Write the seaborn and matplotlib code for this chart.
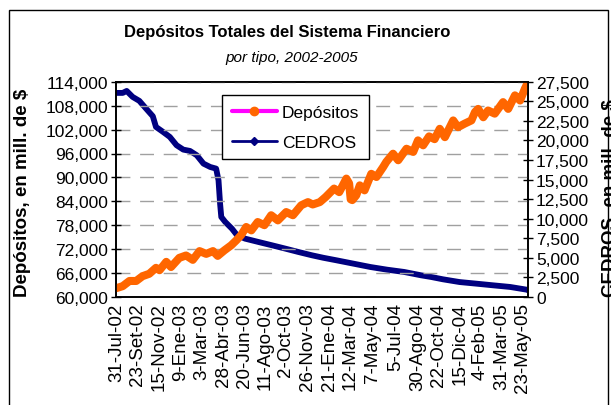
import matplotlib
matplotlib.use("Agg")
import matplotlib.pyplot as plt
import matplotlib.patches as mpatches
from matplotlib.lines import Line2D
from matplotlib.ticker import FuncFormatter
import pandas as pd
import seaborn as sns

# ---------------- data ----------------
dep_dates = ["2002-07-31","2002-08-16","2002-09-02","2002-09-19","2002-10-05","2002-10-22","2002-11-08","2002-11-17",
             "2002-12-04","2002-12-16","2003-01-06","2003-01-23","2003-02-09","2003-02-26","2003-03-15","2003-04-01",
             "2003-04-13","2003-04-30","2003-05-17","2003-05-30","2003-06-11","2003-06-24","2003-07-07","2003-07-23",
             "2003-08-09","2003-08-26","2003-09-12","2003-10-03","2003-10-20","2003-11-10","2003-11-27","2003-12-09",
             "2003-12-27","2004-01-11","2004-02-01","2004-02-14","2004-03-03","2004-03-10","2004-03-14","2004-03-18",
             "2004-03-28","2004-04-06","2004-04-18","2004-05-05","2004-05-18","2004-06-04","2004-06-12","2004-06-29",
             "2004-07-12","2004-08-02","2004-08-19","2004-08-31","2004-09-13","2004-09-28","2004-10-12","2004-10-25",
             "2004-11-07","2004-11-28","2004-12-10","2004-12-27","2005-01-13","2005-01-22","2005-01-30","2005-02-12",
             "2005-02-24","2005-03-13","2005-04-03","2005-04-16","2005-05-03","2005-05-16","2005-05-28","2005-06-05"]
depositos = [62200, 62700, 64000, 64000, 65200, 65800, 67300, 66700,
             68800, 67500, 69800, 70400, 69300, 71500, 70800, 71500,
             70300, 71700, 72950, 74200, 75500, 77550, 76700, 78800,
             78000, 80500, 79200, 81300, 80500, 83000, 83800, 83200,
             83800, 85100, 87200, 86300, 89700, 88500, 84500, 84300,
             85500, 88000, 86750, 90900, 90100, 92600, 93900, 95950,
             94300, 97200, 96400, 99300, 98050, 100300, 99600, 102200,
             100100, 104300, 102600, 103500, 104300, 106400, 107200, 105100,
             106800, 106000, 108900, 107200, 110600, 109300, 112250, 113900]

ced_dates = ["2002-07-31","2002-08-16","2002-08-26","2002-09-10","2002-09-27","2002-10-14","2002-10-31","2002-11-08",
             "2002-11-26","2002-12-13","2002-12-30","2003-01-16","2003-02-02","2003-02-19","2003-03-08","2003-03-25",
             "2003-04-09","2003-04-15","2003-04-19","2003-04-22","2003-05-02","2003-05-19","2003-06-01","2003-06-21",
             "2003-07-25","2003-08-28","2003-10-01","2003-11-03","2003-12-07","2004-01-05","2004-02-07","2004-03-21",
             "2004-05-03","2004-06-14","2004-07-27","2004-09-08","2004-10-03","2004-11-02","2004-12-14","2005-01-26",
             "2005-03-09","2005-04-21","2005-06-02","2005-06-05"]
cedros = [26080, 26080, 26330, 25570, 25060, 24070, 23100, 21730,
          21090, 20450, 19390, 18830, 18660, 18110, 17040, 16610,
          16400, 14910, 11920, 10220, 9580, 8720, 7880, 7450,
          7020, 6600, 6170, 5740, 5320, 5000, 4680, 4250,
          3820, 3480, 3190, 2760, 2550, 2250, 1900, 1690,
          1480, 1270, 920, 850]

tick_dates = ["2002-07-31","2002-09-23","2002-11-15","2003-01-09","2003-03-03","2003-04-28","2003-06-20",
              "2003-08-11","2003-10-02","2003-11-26","2004-01-21","2004-03-12","2004-05-07","2004-07-05",
              "2004-08-30","2004-10-22","2004-12-15","2005-02-04","2005-03-31","2005-05-23"]
tick_labels = ["31-Jul-02","23-Set-02","15-Nov-02","9-Ene-03","3-Mar-03","28-Abr-03","20-Jun-03",
               "11-Ago-03","2-Oct-03","26-Nov-03","21-Ene-04","12-Mar-04","7-May-04","5-Jul-04",
               "30-Ago-04","22-Oct-04","15-Dic-04","4-Feb-05","31-Mar-05","23-May-05"]

left_ticks = [60000, 66000, 72000, 78000, 84000, 90000, 96000, 102000, 108000, 114000]
right_ticks = [0, 2500, 5000, 7500, 10000, 12500, 15000, 17500, 20000, 22500, 25000, 27500]

title = "Depósitos Totales del Sistema Financiero"
subtitle = "por tipo, 2002-2005"
left_label = "Depósitos, en mill. de $"
right_label = "CEDROS, en mill. de $"

# ---------------- style ----------------
sns.set_style("white")
plt.rcParams["font.family"] = ["Liberation Sans", "DejaVu Sans"]
plt.rcParams["text.color"] = "black"
plt.rcParams["axes.labelcolor"] = "black"
plt.rcParams["xtick.color"] = "black"
plt.rcParams["ytick.color"] = "black"

ORANGE = "#FF6600"
MAGENTA = "#FF00FF"
NAVY = "#000080"

df_dep = pd.DataFrame({"fecha": pd.to_datetime(dep_dates), "dep": depositos})
df_ced = pd.DataFrame({"fecha": pd.to_datetime(ced_dates), "ced": cedros})

fig = plt.figure(figsize=(6.11, 4.06), dpi=100)
L, R, T, B = 116, 528, 82.8, 297.9
ax = fig.add_axes([L / 611, 1 - B / 406, (R - L) / 611, (B - T) / 406])
ax2 = ax.twinx()

# CEDROS on the secondary axis
sns.lineplot(data=df_ced, x="fecha", y="ced", ax=ax2, color=NAVY, lw=4.2,
             estimator=None, legend=False, solid_capstyle="round", solid_joinstyle="round")
# Depositos on the primary axis
sns.lineplot(data=df_dep, x="fecha", y="dep", ax=ax, color=MAGENTA, lw=1.5,
             estimator=None, legend=False)
sns.lineplot(data=df_dep, x="fecha", y="dep", ax=ax, color=ORANGE, lw=5.8,
             estimator=None, legend=False, solid_capstyle="round", solid_joinstyle="round")

ax.set_zorder(ax2.get_zorder() + 1)
ax.patch.set_visible(False)

ax.set_ylim(60000, 114000)
ax2.set_ylim(0, 27500)
ax.set_xlim(pd.Timestamp("2002-07-30"), pd.Timestamp("2005-06-05"))

ax.set_yticks(left_ticks)
ax2.set_yticks(right_ticks)
fmt = FuncFormatter(lambda v, p: f"{int(round(v)):,}")
ax.yaxis.set_major_formatter(fmt)
ax2.yaxis.set_major_formatter(fmt)

ax.set_xticks(pd.to_datetime(tick_dates))
ax.set_xticklabels(tick_labels, rotation=90)

ax.set_xlabel("")
ax.set_ylabel("")
ax2.set_ylabel("")

ax.tick_params(axis="y", direction="inout", length=6.5, width=1, pad=2.5, labelsize=12.5,
               colors="black")
ax2.tick_params(axis="y", direction="inout", length=6.5, width=1, pad=2.5, labelsize=12.5,
                colors="black")
ax.tick_params(axis="x", length=0, pad=4, labelsize=13.5, colors="black")

ax.yaxis.grid(True, color="#A0A0A0", lw=1, linestyle=(0, (10, 7)))
ax.xaxis.grid(False)
ax2.grid(False)
for a in (ax, ax2):
    for s in a.spines.values():
        s.set_color("black")
        s.set_linewidth(1.2)
        s.set_visible(True)

# legend
handles = [Line2D([0], [0], color=MAGENTA, lw=3, marker="o", markersize=6,
                  markerfacecolor=ORANGE, markeredgecolor=ORANGE),
           Line2D([0], [0], color=NAVY, lw=2, marker="D", markersize=4,
                  markerfacecolor=NAVY, markeredgecolor=NAVY)]
leg = ax.legend(handles, ["Depósitos", "CEDROS"], loc="upper left",
                bbox_to_anchor=((222 - L) / (R - L), (B - 96) / (B - T)), borderaxespad=0,
                fontsize=12.5, frameon=True, fancybox=False, framealpha=1, edgecolor="black",
                handlelength=2.6, handletextpad=0.3, borderpad=0.55, labelspacing=0.85)
leg.get_frame().set_linewidth(1.0)
for t in leg.get_texts():
    t.set_color("black")

# titles and axis labels
fig.text(287 / 611, 1 - 37 / 406, title, ha="center", va="baseline",
         fontsize=12, fontweight="bold", color="black")
fig.text(292 / 611, 1 - 62 / 406, subtitle, ha="center", va="baseline",
         fontsize=11, style="italic", color="black")
fig.text(14 / 611, 1 - 192.5 / 406, left_label, rotation=90, ha="left", va="center",
         fontsize=13.5, fontweight="bold", color="black")
fig.text(602 / 611, 1 - 198 / 406, right_label, rotation=90, ha="left", va="center",
         fontsize=13.5, fontweight="bold", color="black")

# outer chart border
border = mpatches.Rectangle((9 / 611, -0.05), (608 - 9) / 611, (406 - 11) / 406 + 0.05,
                            transform=fig.transFigure, fill=False, edgecolor="black",
                            lw=1.0, clip_on=False)
fig.patches.append(border)

fig.savefig("out.png", dpi=100)
